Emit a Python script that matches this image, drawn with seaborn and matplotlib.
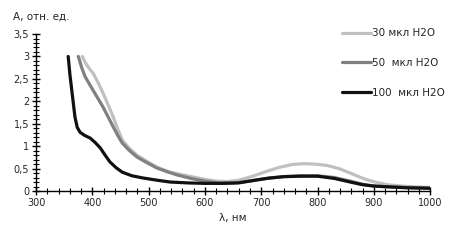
import pandas as pd
import matplotlib
matplotlib.use("Agg")
import matplotlib.pyplot as plt
from matplotlib.ticker import MultipleLocator, FuncFormatter
import seaborn as sns

# спектры поглощения, значения
wl_30 = [382, 388, 395, 401, 410, 419, 428, 437, 445, 453, 465, 479, 497, 515, 538, 560, 580, 600,
         620, 640, 660, 685, 710, 733, 755, 775, 795, 817, 838, 858, 875, 888, 905, 924, 950, 975, 1000]
a_30 = [3.0, 2.85, 2.72, 2.63, 2.42, 2.18, 1.92, 1.65, 1.38, 1.14, 0.96, 0.80, 0.66, 0.53, 0.42, 0.36, 0.31, 0.26,
        0.22, 0.21, 0.24, 0.33, 0.44, 0.53, 0.59, 0.61, 0.60, 0.57, 0.50, 0.40, 0.31, 0.25, 0.19, 0.14, 0.11, 0.09, 0.08]

wl_50 = [375, 381, 387, 394, 401, 410, 419, 428, 437, 445, 453, 465, 479, 497, 515, 535, 550, 575, 600,
         625, 650, 680, 710, 740, 770, 800, 830, 858, 880, 900, 930, 960, 1000]
a_50 = [3.0, 2.75, 2.55, 2.40, 2.25, 2.06, 1.87, 1.65, 1.43, 1.24, 1.07, 0.91, 0.76, 0.63, 0.51, 0.42, 0.36, 0.28, 0.22,
        0.18, 0.18, 0.22, 0.28, 0.32, 0.34, 0.34, 0.30, 0.22, 0.15, 0.11, 0.09, 0.08, 0.07]

wl_100 = [357, 360, 364, 369, 373, 378, 386, 396, 405, 414, 422, 431, 442, 453, 470, 490, 515, 538, 570,
          600, 630, 660, 693, 715, 740, 770, 800, 830, 858, 880, 900, 930, 960, 1000]
a_100 = [3.0, 2.6, 2.18, 1.65, 1.42, 1.31, 1.24, 1.18, 1.08, 0.96, 0.81, 0.65, 0.52, 0.42, 0.34, 0.29, 0.24, 0.20, 0.18,
         0.17, 0.17, 0.18, 0.25, 0.29, 0.32, 0.33, 0.33, 0.28, 0.20, 0.14, 0.11, 0.09, 0.07, 0.06]

labels = ["30 мкл H2O", "50  мкл H2O", "100  мкл H2O"]
colors = ["#c0c0c0", "#808080", "#111111"]

df = pd.concat([
    pd.DataFrame({"wl": wl_30, "A": a_30, "sample": labels[0]}),
    pd.DataFrame({"wl": wl_50, "A": a_50, "sample": labels[1]}),
    pd.DataFrame({"wl": wl_100, "A": a_100, "sample": labels[2]}),
])

sns.set_style("white")
plt.rcParams["font.family"] = ["DejaVu Sans"]

fig, ax = plt.subplots(figsize=(4.63, 2.43), dpi=100)
fig.subplots_adjust(left=0.078, right=0.929, top=0.86, bottom=0.214)

sns.lineplot(data=df, x="wl", y="A", hue="sample", palette=dict(zip(labels, colors)),
             linewidth=2.3, ax=ax, legend=False)

ax.set_xlim(300, 1000)
ax.set_ylim(0, 3.5)
ax.xaxis.set_major_locator(MultipleLocator(100))
ax.xaxis.set_minor_locator(MultipleLocator(20))
ax.yaxis.set_major_locator(MultipleLocator(0.5))
ax.yaxis.set_minor_locator(MultipleLocator(0.1))
ax.yaxis.set_major_formatter(FuncFormatter(lambda v, p: f"{v:g}".replace(".", ",")))
ax.tick_params(which="both", bottom=True, left=True, top=False, right=False)
ax.tick_params(which="major", direction="inout", length=6, width=1, labelsize=7, color="black", pad=2)
ax.tick_params(which="minor", direction="inout", length=4, width=0.8, color="black")
for s in ["top", "right"]:
    ax.spines[s].set_visible(False)
for s in ["left", "bottom"]:
    ax.spines[s].set_color("black")
    ax.spines[s].set_linewidth(1)

ax.set_xlabel("λ, нм", fontsize=7.5, labelpad=4)
ax.set_ylabel("")
fig.text(0.028, 0.93, "А, отн. ед.", fontsize=7.5, va="center", ha="left")

handles = [plt.Line2D([], [], color=c, linewidth=2.3) for c in colors]
fig.legend(handles, labels, loc="upper left", bbox_to_anchor=(0.728, 0.905), frameon=False,
           fontsize=7.5, handlelength=2.8, handletextpad=0.1, labelspacing=1.9, borderpad=0)

fig.savefig("out.png", dpi=100)
